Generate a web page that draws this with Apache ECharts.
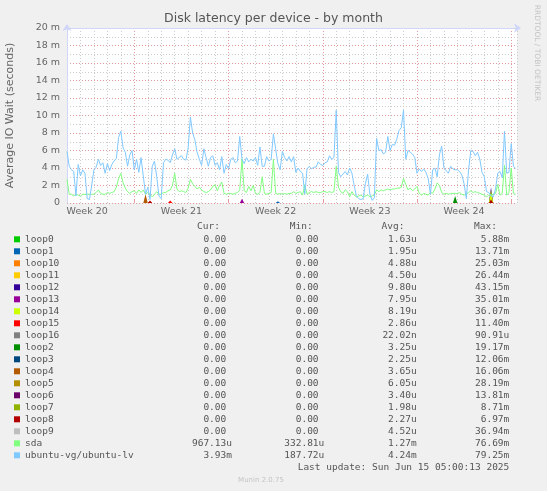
<!DOCTYPE html>
<html>
<head>
<meta charset="utf-8">
<title>Disk latency per device - by month</title>
<script src="https://cdn.jsdelivr.net/npm/echarts@6/dist/echarts.min.js"></script>
<style>
  html, body { margin: 0; padding: 0; background: #f0f0f0; }
  #chart { width: 547px; height: 491px; }
</style>
</head>
<body>
<div id="chart"></div>
<script>
// x is measured in days from the left edge of the graph, one sample every 4 hours
const weekLabels = ["Week 20", "Week 21", "Week 22", "Week 23", "Week 24"];
const weekLabelDays = [1.5, 8.5, 15.5, 22.5, 29.5];
const weekStartDays = [5, 12, 19, 26, 33];

const deviceNames = [
  "loop0", "loop1", "loop10", "loop11", "loop12", "loop13", "loop14", "loop15",
  "loop16", "loop2", "loop3", "loop4", "loop5", "loop6", "loop7", "loop8",
  "loop9", "sda", "ubuntu-vg/ubuntu-lv"
];
const deviceColors = [
  "#00CC00", "#0066B3", "#FF8000", "#FFCC00", "#330099", "#990099", "#CCFF00", "#FF0000",
  "#808080", "#008F00", "#00487D", "#B35A00", "#B38F00", "#6B006B", "#8FB300", "#B30000",
  "#BEBEBE", "#80FF80", "#80C9FF"
];

const curValues = ["0.00", "0.00", "0.00", "0.00", "0.00", "0.00", "0.00", "0.00", "0.00", "0.00",
  "0.00", "0.00", "0.00", "0.00", "0.00", "0.00", "0.00", "967.13u", "3.93m"];
const minValues = ["0.00", "0.00", "0.00", "0.00", "0.00", "0.00", "0.00", "0.00", "0.00", "0.00",
  "0.00", "0.00", "0.00", "0.00", "0.00", "0.00", "0.00", "332.81u", "187.72u"];
const avgValues = ["1.63u", "1.95u", "4.88u", "4.50u", "9.80u", "7.95u", "8.19u", "2.86u", "22.02n", "3.25u",
  "2.25u", "3.65u", "6.05u", "3.40u", "1.98u", "2.27u", "4.52u", "1.27m", "4.24m"];
const maxValues = ["5.88m", "13.71m", "25.03m", "26.44m", "43.15m", "35.01m", "36.07m", "11.40m", "90.91u", "19.17m",
  "12.06m", "16.06m", "28.19m", "13.81m", "8.71m", "6.97m", "36.94m", "76.69m", "79.25m"];

// ms, one value per 4 h step
const ubuntuLv = [
  5.9, 4.2, 3.8, 3.6, 0.8, 4.4, 3.1, 3.8, 3.4, 0.5,
  0.4, 2.0, 3.8, 4.1, 5.0, 4.3, 4.6, 3.4, 4.5, 3.7,
  4.4, 4.8, 5.1, 7.5, 8.2, 6.3, 5.8, 4.2, 5.5, 6.0,
  3.8, 5.0, 3.5, 5.2, 3.1, 1.0, 1.8, 0.4, 4.2, 4.8,
  3.0, 0.8, 0.5, 4.6, 5.0, 4.9, 4.6, 5.5, 6.2, 5.0,
  5.2, 5.4, 5.0, 4.9, 6.3, 9.8, 8.0, 7.2, 5.8, 5.0,
  4.3, 6.2, 5.2, 4.2, 5.2, 5.4, 4.3, 4.6, 3.8, 5.3,
  3.4, 4.4, 3.9, 5.0, 5.2, 4.6, 4.8, 7.6, 5.0, 4.5,
  5.2, 4.7, 5.0, 4.8, 5.2, 4.3, 6.4, 4.2, 4.2, 5.3,
  4.8, 5.0, 7.9, 6.2, 4.5, 3.8, 5.9, 5.2, 4.8, 5.3,
  4.7, 5.3, 3.5, 4.0, 3.6, 3.4, 1.0, 3.9, 4.2, 3.9,
  4.1, 4.1, 4.7, 4.4, 4.3, 4.6, 4.7, 5.4, 5.0, 5.2,
  10.6, 3.5, 3.0, 3.3, 3.6, 3.2, 4.0, 3.4, 2.0, 0.8,
  0.5, 0.4, 0.5, 2.2, 3.3, 1.0, 0.3, 0.6, 7.4, 6.0,
  6.1, 5.6, 5.8, 7.6, 6.0, 6.7, 6.6, 7.3, 8.3, 8.6,
  10.6, 5.0, 6.0, 5.8, 5.6, 5.2, 3.4, 3.9, 3.6, 3.9,
  3.5, 2.8, 1.0, 3.8, 4.0, 3.0, 5.5, 6.5, 4.0, 3.7,
  3.4, 4.2, 3.9, 3.8, 3.8, 3.6, 3.2, 2.2, 0.5, 3.8,
  6.0, 5.9, 5.4, 5.8, 5.0, 3.5, 3.0, 1.3, 1.2, 0.8,
  0.7, 1.6, 3.4, 3.6, 2.9, 8.2, 3.4, 3.5, 6.8, 4.2,
  3.93
];

const sda = [
  2.7, 1.0, 1.0, 0.8, 1.0, 0.9, 0.8, 1.0, 1.0, 1.0,
  1.0, 1.0, 1.0, 1.2, 1.5, 1.1, 1.0, 1.0, 1.2, 1.1,
  1.2, 1.3, 1.8, 2.8, 3.4, 2.3, 1.7, 1.3, 1.1, 1.3,
  1.4, 1.1, 1.5, 1.2, 1.5, 1.0, 1.2, 1.0, 0.7, 1.0,
  1.3, 1.0, 1.0, 1.2, 1.2, 1.4, 1.5, 2.0, 3.4, 1.6,
  1.3, 1.4, 1.3, 1.2, 1.7, 2.7, 2.2, 1.9, 1.6, 1.8,
  1.5, 1.3, 1.2, 1.3, 1.5, 1.9, 2.1, 1.4, 2.0, 2.4,
  1.1, 1.0, 1.1, 1.1, 1.0, 1.1, 1.2, 1.5, 5.0, 1.4,
  1.2, 1.9, 1.4, 2.0, 1.1, 1.0, 1.2, 3.0, 1.1, 1.0,
  1.1, 1.2, 5.0, 1.1, 1.0, 1.1, 1.0, 1.1, 1.0, 1.1,
  1.1, 1.3, 1.1, 1.2, 1.3, 0.9, 2.1, 1.0, 1.2, 1.3,
  1.2, 1.3, 1.2, 1.2, 1.3, 1.3, 1.2, 1.3, 1.2, 1.3,
  4.2, 1.8, 1.3, 1.1, 1.5, 1.3, 0.7, 1.3, 0.9, 0.7,
  0.8, 0.9, 0.7, 0.8, 0.9, 0.7, 0.8, 0.9, 1.5, 1.3,
  1.5, 1.4, 1.5, 1.6, 1.5, 1.6, 1.6, 1.7, 1.7, 1.8,
  2.8, 2.1, 1.5, 1.7, 1.4, 1.6, 1.9, 1.1, 0.9, 1.1,
  1.0, 0.9, 1.2, 1.1, 1.6, 2.3, 2.0, 1.2, 1.0, 1.1,
  1.0, 1.1, 1.1, 1.1, 1.1, 1.2, 1.0, 0.9, 1.0, 1.2,
  1.4, 1.2, 1.3, 1.2, 1.1, 1.0, 0.9, 0.7, 0.9, 0.9,
  1.0, 1.1, 2.1, 0.9, 1.1, 4.3, 0.9, 1.2, 4.0, 1.1,
  0.97
];

// loop devices sit at zero apart from a few short spikes: [step, ms]
const loopSpikes = [
  [],                     // loop0
  [[94, 0.2]],            // loop1
  [[37, 0.2], [189, 0.9]],// loop10
  [[189, 1.2]],           // loop11
  [[189, 1.8]],           // loop12
  [[78, 0.5]],            // loop13
  [[189, 1.5]],           // loop14
  [[46, 0.3]],            // loop15
  [],                     // loop16
  [[173, 0.8]],           // loop2
  [],                     // loop3
  [[35, 1.0]],            // loop4
  [],                     // loop5
  [],                     // loop6
  [],                     // loop7
  [[37, 0.3], [189, 0.4]],// loop8
  []                      // loop9
];

const STEP = 1 / 6;
const X_MAX = 33.43;
const MINOR = "#cccccc";
const MAJOR = "#e39999";
const AXIS = "#cfd6f8";
const FONT = "#666666";
const ROW_TOP = 239.3;
const ROW_STEP = 12;

const toPoints = values => values.map((v, i) => [i * STEP, v]);

const series = [];
for (let d = 0; d < loopSpikes.length; d++) {
  const values = ubuntuLv.map(() => 0);
  loopSpikes[d].forEach(s => { values[s[0]] = s[1]; });
  // the zero run is hidden under the x axis, only the spikes show
  series.push({
    name: deviceNames[d],
    type: "line",
    symbol: "none",
    color: deviceColors[d],
    lineStyle: { width: 1, color: deviceColors[d], opacity: 0 },
    areaStyle: { color: deviceColors[d], opacity: 1 },
    data: toPoints(values)
  });
}
[sda, ubuntuLv].forEach((values, k) => {
  const d = loopSpikes.length + k;
  series.push({
    name: deviceNames[d],
    type: "line",
    symbol: "none",
    color: deviceColors[d],
    lineStyle: { width: 1, color: deviceColors[d] },
    data: toPoints(values)
  });
});

const text = (x, y, str, align, extra) => ({
  type: "text",
  x: x,
  y: y,
  silent: true,
  style: Object.assign({
    text: str,
    align: align,
    textAlign: align,
    verticalAlign: "middle",
    textVerticalAlign: "middle",
    fontFamily: "DejaVu Sans Mono",
    fontSize: 9.5,
    fill: "#555555"
  }, extra || {})
});

// rrdtool pads unit-less numbers with a space
const pad = s => (/[0-9]$/.test(s) ? s + " " : s);

const graphic = [
  text(220, 227, "Cur:", "right"),
  text(312.7, 227, "Min:", "right"),
  text(404.5, 227, "Avg:", "right"),
  text(497, 227, "Max:", "right")
];
for (let d = 0; d < deviceNames.length; d++) {
  const y = ROW_TOP + d * ROW_STEP;
  graphic.push(text(232, y, pad(curValues[d]), "right"));
  graphic.push(text(324.3, y, pad(minValues[d]), "right"));
  graphic.push(text(416.7, y, pad(avgValues[d]), "right"));
  graphic.push(text(509.3, y, pad(maxValues[d]), "right"));
}
graphic.push(text(509.3, 467.3, "Last update: Sun Jun 15 05:00:13 2025", "right"));
graphic.push(text(261, 480.3, "Munin 2.0.75", "center",
  { fontFamily: "DejaVu Sans", fontSize: 7, fill: "#c4c4c4" }));
const rrd = text(537, 53, "RRDTOOL / TOBI OETIKER", "center",
  { fontFamily: "DejaVu Sans", fontSize: 7.5, fill: "#c4c4c4" });
rrd.rotation = -Math.PI / 2;
graphic.push(rrd);

const option = {
  backgroundColor: "#f0f0f0",
  animation: false,
  textStyle: { fontFamily: "DejaVu Sans" },
  title: {
    text: "Disk latency per device - by month",
    left: "center",
    top: 12,
    padding: 0,
    textStyle: { fontSize: 12.5, fontWeight: "normal", color: "#555555", fontFamily: "DejaVu Sans" }
  },
  grid: {
    left: 67, right: 30, top: 28, bottom: 288,
    show: true, backgroundColor: "#ffffff", borderWidth: 0,
    outerBoundsMode: "none"
  },
  legend: {
    orient: "vertical",
    left: 14,
    top: ROW_TOP - ROW_STEP / 2,
    padding: 0,
    itemGap: 0,
    itemWidth: 6,
    itemHeight: 6,
    icon: "rect",
    selectedMode: false,
    data: deviceNames,
    textStyle: { fontFamily: "DejaVu Sans Mono", fontSize: 9.5, color: "#555555", lineHeight: ROW_STEP }
  },
  xAxis: [
    {
      type: "value", min: 0, max: X_MAX, interval: 1,
      axisLine: { show: false },
      axisTick: { show: false },
      splitLine: { show: true, lineStyle: { color: MINOR, width: 1, type: [1, 2] } },
      axisLabel: {
        customValues: weekLabelDays,
        formatter: v => weekLabels[weekLabelDays.indexOf(v)],
        color: FONT, fontSize: 9.5, margin: 4
      }
    },
    {
      type: "value", min: 0, max: X_MAX,
      axisLine: { show: false },
      axisTick: { show: true, customValues: weekStartDays, length: 3, lineStyle: { color: MAJOR } },
      splitLine: { show: true, lineStyle: { color: MAJOR, width: 1, type: [1, 2] } },
      axisLabel: { show: false }
    },
    {
      type: "value", min: 0, max: X_MAX, z: 10,
      axisLine: {
        show: true, onZero: false, lineStyle: { color: AXIS, width: 1 },
        symbol: ["none", "arrow"], symbolSize: [7, 7], symbolOffset: [0, 4]
      },
      axisTick: { show: false },
      splitLine: { show: false },
      axisLabel: { show: false }
    }
  ],
  yAxis: [
    {
      type: "value", min: 0, max: 20, interval: 1,
      axisLine: {
        show: true, onZero: false, lineStyle: { color: AXIS, width: 1 },
        symbol: ["none", "arrow"], symbolSize: [7, 7], symbolOffset: [0, 4]
      },
      axisTick: { show: false },
      axisLabel: { show: false },
      splitLine: { show: true, lineStyle: { color: MINOR, width: 1, type: [1, 2] } }
    },
    {
      type: "value", position: "left", min: 0, max: 20, interval: 2,
      axisLine: { show: false },
      axisTick: { show: false },
      axisLabel: {
        formatter: v => (v === 0 ? "0" : v + " m"),
        color: FONT, fontSize: 9.5, margin: 7
      },
      splitLine: { show: true, lineStyle: { color: MAJOR, width: 1, type: [1, 2] } },
      name: "Average IO Wait (seconds)",
      nameLocation: "middle",
      nameGap: 51,
      nameRotate: 90,
      nameTextStyle: { fontSize: 11, color: FONT, fontFamily: "DejaVu Sans" }
    }
  ],
  graphic: graphic,
  series: series
};

const chart = echarts.init(document.getElementById("chart"), null, { renderer: "canvas" });
chart.setOption(option);
</script>
</body>
</html>
